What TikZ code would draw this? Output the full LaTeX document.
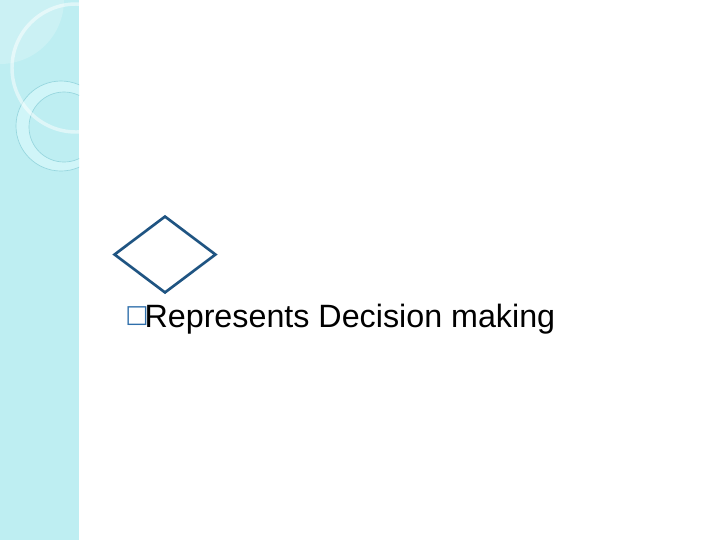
\documentclass[tikz,border=0pt]{standalone}
\usepackage{xcolor}
\usepackage{fontspec}
\setmainfont{Liberation Sans}
\newfontfamily\symfont{DejaVu Sans}
\usepackage{tikz}
\usetikzlibrary{shapes.geometric}

\definecolor{stripcyan}{RGB}{190,238,242}
\definecolor{ringcyan}{RGB}{208,245,248}
\definecolor{ringline}{RGB}{150,214,222}
\definecolor{diamondblue}{RGB}{31,84,130}
\definecolor{boxblue}{RGB}{46,110,170}

\begin{document}
\begin{tikzpicture}[x=0.75pt,y=0.75pt,yscale=-1,xscale=1]
\useasboundingbox (0,0) rectangle (720,540);

%Shape: Rectangle [id:strip] 
\fill [stripcyan]  (0,0) rectangle (79,540) ;
\begin{scope}
\clip (0,0) rectangle (79,540);
%Shape: Quarter disc [id:corner] 
\fill [white,opacity=0.2]  (0,0) -- (64,0) arc [start angle=0,end angle=90,radius=64] -- cycle ;
%Shape: Ring [id:ring] 
\fill [ringcyan,even odd rule]  (61,126) circle [radius=45] (64,127) circle [radius=35] ;
\draw [ringline,line width=0.5]  (61,126) circle [radius=45] ;
\draw [ringline,line width=0.5]  (64,127) circle [radius=35] ;
%Shape: Arc [id:whitearc] 
\draw [white,opacity=0.5,line width=2.6]  (76,68) circle [radius=64] ;
\end{scope}

%Shape: Diamond [id:decision] 
\node [draw=diamondblue,line width=2pt,diamond,minimum width=76.5pt,minimum height=57.75pt,inner sep=0pt] (decision) at (165,254.5) {};

% Text Node
\node [anchor=base west,inner sep=0pt,font=\fontsize{24.2}{28}\selectfont] (label) at (125,327) {\textcolor{boxblue}{\symfont\fontsize{18.5}{20}\selectfont\raisebox{3.5pt}{□}}\kern-3pt Represents Decision making};

\end{tikzpicture}
\end{document}
